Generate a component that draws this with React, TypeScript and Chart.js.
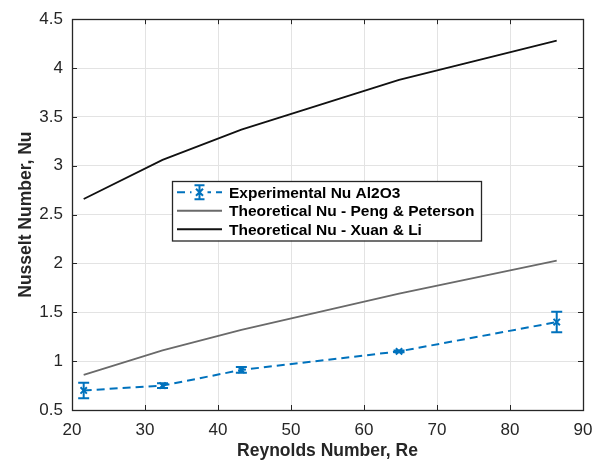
import React, { useEffect, useRef } from "react";
import { Chart, registerables } from "chart.js";

Chart.register(...registerables);

const reynolds = [21.6, 32.4, 43.2, 64.8, 86.4];
const expNu = [0.7, 0.75, 0.91, 1.1, 1.4];
const expErr = [0.08, 0.025, 0.03, 0.01, 0.105];
const pengNu = [0.86, 1.11, 1.32, 1.69, 2.03];
const xuanNu = [2.66, 3.06, 3.37, 3.88, 4.28];

const xTicks = [20, 30, 40, 50, 60, 70, 80, 90];
const yTicks = [0.5, 1, 1.5, 2, 2.5, 3, 3.5, 4, 4.5];

const seriesLabels = [
  "Experimental Nu Al2O3",
  "Theoretical Nu - Peng & Peterson",
  "Theoretical Nu - Xuan & Li",
];

const FONT = "'Liberation Sans', Arial, Helvetica, sans-serif";
const AXIS = "#262626";
const BLUE = "#0072BD";
const GRAY = "#6a6a6a";
const BLACK = "#111111";

const errorBarPlugin = {
  id: "errorBars",
  afterDatasetsDraw(chart: any) {
    const { ctx, scales } = chart;
    const xs = scales.x;
    const ys = scales.y;
    ctx.save();
    ctx.strokeStyle = BLUE;
    ctx.lineWidth = 2;
    ctx.setLineDash([]);
    for (let i = 0; i < reynolds.length; i++) {
      const x = xs.getPixelForValue(reynolds[i]);
      const yl = ys.getPixelForValue(expNu[i] - expErr[i]);
      const yh = ys.getPixelForValue(expNu[i] + expErr[i]);
      ctx.beginPath();
      ctx.moveTo(x, yl);
      ctx.lineTo(x, yh);
      ctx.moveTo(x - 5.5, yl);
      ctx.lineTo(x + 5.5, yl);
      ctx.moveTo(x - 5.5, yh);
      ctx.lineTo(x + 5.5, yh);
      ctx.stroke();
    }
    ctx.restore();
  },
};

const boxPlugin = {
  id: "matlabBox",
  afterDraw(chart: any) {
    const { ctx, chartArea, scales } = chart;
    const { left, right, top, bottom } = chartArea;
    ctx.save();
    ctx.strokeStyle = AXIS;
    ctx.lineWidth = 1;
    ctx.setLineDash([]);
    const tl = 5;
    ctx.beginPath();
    for (const v of xTicks) {
      const x = Math.round(scales.x.getPixelForValue(v)) + 0.5;
      ctx.moveTo(x, bottom);
      ctx.lineTo(x, bottom - tl);
      ctx.moveTo(x, top);
      ctx.lineTo(x, top + tl);
    }
    for (const v of yTicks) {
      const y = Math.round(scales.y.getPixelForValue(v)) + 0.5;
      ctx.moveTo(left, y);
      ctx.lineTo(left + tl, y);
      ctx.moveTo(right, y);
      ctx.lineTo(right - tl, y);
    }
    ctx.stroke();
    ctx.lineWidth = 1.3;
    ctx.strokeRect(Math.round(left) + 0.5, Math.round(top) + 0.5, Math.round(right - left), Math.round(bottom - top));
    ctx.restore();
  },
};

const legendPlugin = {
  id: "boxLegend",
  afterDraw(chart: any, _args: any, opts: any) {
    const { ctx } = chart;
    const { x, y, w, rowH, pad } = opts;
    const h = rowH * 3 + pad * 2;
    ctx.save();
    ctx.fillStyle = "#ffffff";
    ctx.fillRect(x, y, w, h);
    ctx.strokeStyle = AXIS;
    ctx.lineWidth = 1.3;
    ctx.strokeRect(x + 0.5, y + 0.5, w, h);
    const colors = [BLUE, GRAY, BLACK];
    const sx0 = x + 5;
    const sx1 = x + 50;
    ctx.font = `bold 15.5px ${FONT}`;
    ctx.textBaseline = "middle";
    ctx.textAlign = "left";
    for (let i = 0; i < 3; i++) {
      const cy = y + pad + rowH * i + rowH / 2;
      ctx.strokeStyle = colors[i];
      ctx.lineWidth = i === 0 ? 2 : 1.8;
      ctx.setLineDash(i === 0 ? [8, 5] : []);
      ctx.beginPath();
      ctx.moveTo(sx0, cy);
      ctx.lineTo(sx1, cy);
      ctx.stroke();
      ctx.setLineDash([]);
      if (i === 0) {
        const mx = (sx0 + sx1) / 2;
        ctx.fillStyle = "#fff";
        ctx.fillRect(mx - 8, cy - 8, 16, 16);
        ctx.beginPath();
        ctx.moveTo(mx, cy - 7);
        ctx.lineTo(mx, cy + 7);
        ctx.moveTo(mx - 5, cy - 7);
        ctx.lineTo(mx + 5, cy - 7);
        ctx.moveTo(mx - 5, cy + 7);
        ctx.lineTo(mx + 5, cy + 7);
        ctx.moveTo(mx - 3.5, cy - 3.5);
        ctx.lineTo(mx + 3.5, cy + 3.5);
        ctx.moveTo(mx + 3.5, cy - 3.5);
        ctx.lineTo(mx - 3.5, cy + 3.5);
        ctx.stroke();
      }
      ctx.fillStyle = "#000000";
      ctx.fillText(seriesLabels[i], x + 57, cy + 1);
    }
    ctx.restore();
  },
};

export default function App() {
  const ref = useRef<HTMLCanvasElement | null>(null);
  useEffect(() => {
    if (!ref.current) return;
    const chart = new Chart(ref.current, {
      type: "line",
      data: {
        datasets: [
          {
            label: seriesLabels[0],
            data: reynolds.map((r, i) => ({ x: r, y: expNu[i] })),
            borderColor: BLUE,
            backgroundColor: BLUE,
            borderWidth: 2,
            borderDash: [8, 5],
            pointStyle: "crossRot",
            pointRadius: 4.5,
            pointBorderWidth: 2,
            pointBorderColor: BLUE,
            tension: 0,
          },
          {
            label: seriesLabels[1],
            data: reynolds.map((r, i) => ({ x: r, y: pengNu[i] })),
            borderColor: GRAY,
            borderWidth: 1.8,
            pointRadius: 0,
            tension: 0,
          },
          {
            label: seriesLabels[2],
            data: reynolds.map((r, i) => ({ x: r, y: xuanNu[i] })),
            borderColor: BLACK,
            borderWidth: 1.8,
            pointRadius: 0,
            tension: 0,
          },
        ],
      },
      options: {
        responsive: false,
        animation: false,
        layout: { padding: { left: 0, right: 27, top: 10, bottom: 0 } },
        plugins: {
          legend: { display: false },
          tooltip: { enabled: false },
          boxLegend: { x: 172, y: 181, w: 309, rowH: 18.5, pad: 2 },
        } as any,
        scales: {
          x: {
            type: "linear",
            min: 20,
            max: 90,
            afterFit: (s: any) => {
              s.height = 58;
            },
            afterBuildTicks: (s: any) => {
              s.ticks = xTicks.map((v) => ({ value: v }));
            },
            grid: { color: "#e3e3e3", lineWidth: 1, drawTicks: false },
            border: { display: false },
            ticks: {
              color: AXIS,
              font: { family: FONT, size: 17 },
              padding: 10,
              maxRotation: 0,
              callback: (v: any) => String(v),
            },
            title: {
              display: true,
              text: "Reynolds Number, Re",
              color: AXIS,
              font: { family: FONT, size: 17.5, weight: "bold" },
              padding: { top: 0, bottom: 6 },
            },
          },
          y: {
            type: "linear",
            min: 0.5,
            max: 4.5,
            afterFit: (s: any) => {
              s.width = 72;
            },
            afterBuildTicks: (s: any) => {
              s.ticks = yTicks.map((v) => ({ value: v }));
            },
            grid: { color: "#e3e3e3", lineWidth: 1, drawTicks: false },
            border: { display: false },
            ticks: {
              color: AXIS,
              font: { family: FONT, size: 17 },
              padding: 9,
              callback: (v: any) => String(Number(v)),
            },
            title: {
              display: true,
              text: "Nusselt Number, Nu",
              color: AXIS,
              font: { family: FONT, size: 17.5, weight: "bold" },
              padding: { top: 16, bottom: 0 },
            },
          },
        },
      },
      plugins: [errorBarPlugin, boxPlugin, legendPlugin],
    });
    return () => chart.destroy();
  }, []);
  return (
    <div style={{ position: "fixed", left: 0, top: 0, width: 610, height: 468, background: "#fff" }}>
      <canvas ref={ref} width={610} height={468} style={{ display: "block" }} />
    </div>
  );
}
